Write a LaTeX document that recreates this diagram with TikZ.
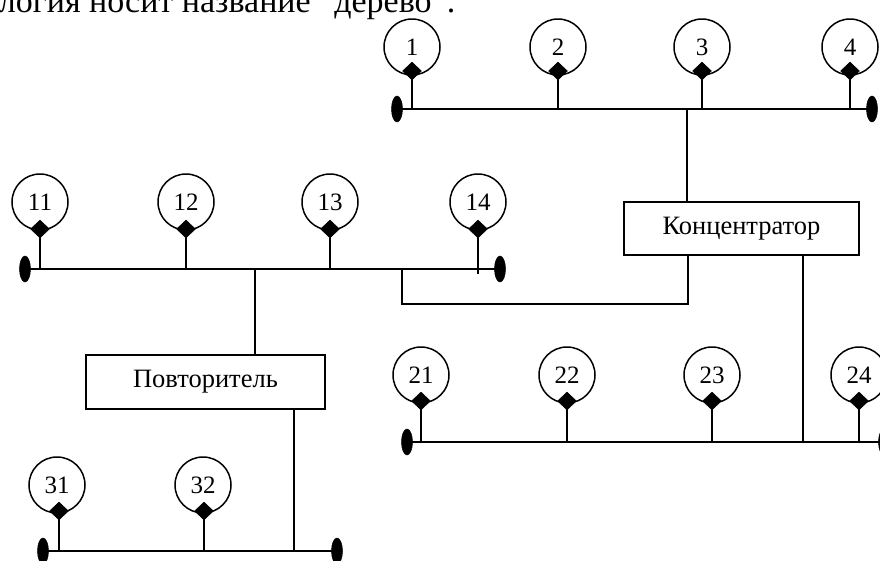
\documentclass[tikz,border=0pt]{standalone}
\usepackage{fontspec}
\setmainfont{Liberation Serif}
\usetikzlibrary{shapes.geometric}
\begin{document}
\begin{tikzpicture}[x=1pt,y=-1pt,line width=1.5pt,
  ws/.style={circle,draw,minimum size=56pt,inner sep=0pt,font=\fontsize{25}{30}\selectfont},
  tap/.style={diamond,fill,draw,line width=0.5pt,minimum width=19pt,minimum height=18pt,inner sep=0pt},
  term/.style={ellipse,fill,draw,line width=0.5pt,minimum width=11pt,minimum height=26pt,inner sep=0pt},
  hub/.style={rectangle,draw,inner sep=0pt,font=\fontsize{26.5}{31}\selectfont},
  cable/.style={line width=1.5pt}]
\useasboundingbox (0,0) rectangle (880,560);
\clip (0,0) rectangle (880,560);
% title (cut by the top edge)
\node[anchor=base east,inner sep=0pt,font=\fontsize{34}{40}\selectfont] (title) at (456,12) {логия носит название "дерево".};
% ---------- bus 1 ----------
\node[term] (t1L) at (397,109) {};
\node[term] (t1R) at (872,109) {};
\draw[cable] (t1L.center) -- (t1R.center);
\coordinate (j1) at (687,108);
\foreach \n/\x in {1/412,2/558,3/702,4/850}{
  \node[ws] (c\n) at (\x,47) {\n};
  \node[tap] (d\n) at (\x,71) {};
  \draw[cable] (d\n.center) -- (d\n.center |- t1L.center);
}
% ---------- bus 2 ----------
\node[term] (t2L) at (25,269) {};
\node[term] (t2R) at (500,269) {};
\draw[cable] (t2L.center) -- (t2R.center);
\coordinate (j2) at (402,269);
\coordinate (j4) at (255,269);
\foreach \n/\x in {11/40,12/186,13/330,14/478}{
  \node[ws] (c\n) at (\x,202) {\n};
  \node[tap] (d\n) at (\x,229) {};
}
\foreach \n in {11,12,13}{\draw[cable] (d\n.center) -- (d\n.center |- t2L.center);}
\draw[cable] (d14.center) -- ([yshift=-5pt]d14.center |- t2L.center);
% ---------- bus 3 ----------
\node[term] (t3L) at (407,442) {};
\node[term] (t3R) at (884,442) {};
\draw[cable] (t3L.center) -- (t3R.center);
\coordinate (j3) at (803,441);
\foreach \n/\x in {21/421,22/567,23/712,24/859}{
  \node[ws] (c\n) at (\x,375) {\n};
  \node[tap] (d\n) at (\x,401) {};
  \draw[cable] (d\n.center) -- (d\n.center |- t3L.center);
}
% ---------- bus 4 ----------
\node[term] (t4L) at (43,551) {};
\node[term] (t4R) at (337,551) {};
\draw[cable] (t4L.center) -- (t4R.center);
\coordinate (j5) at (294,551);
\foreach \n/\x/\cx in {31/59/57,32/204/203}{
  \node[ws] (c\n) at (\cx,485) {\n};
  \node[tap] (d\n) at (\x,511) {};
  \draw[cable] (d\n.center) -- (d\n.center |- t4L.center);
}
% ---------- hubs ----------
\node[hub,minimum width=235pt,minimum height=53pt] (conc) at (741.5,228.5) {Концентратор};
\node[hub,minimum width=239pt,minimum height=54pt] (rep) at (205.5,382) {Повторитель};
\coordinate (k1) at (688,0);
\draw[cable] (j1) -- (j1 |- conc.north);
\draw[cable] (conc.south -| k1) -- ++(0,48) -| (j2);
\draw[cable] (conc.south -| j3) -- (j3);
\draw[cable] (j4) -- (j4 |- rep.north);
\draw[cable] (rep.south -| j5) -- (j5);
\end{tikzpicture}
\end{document}
